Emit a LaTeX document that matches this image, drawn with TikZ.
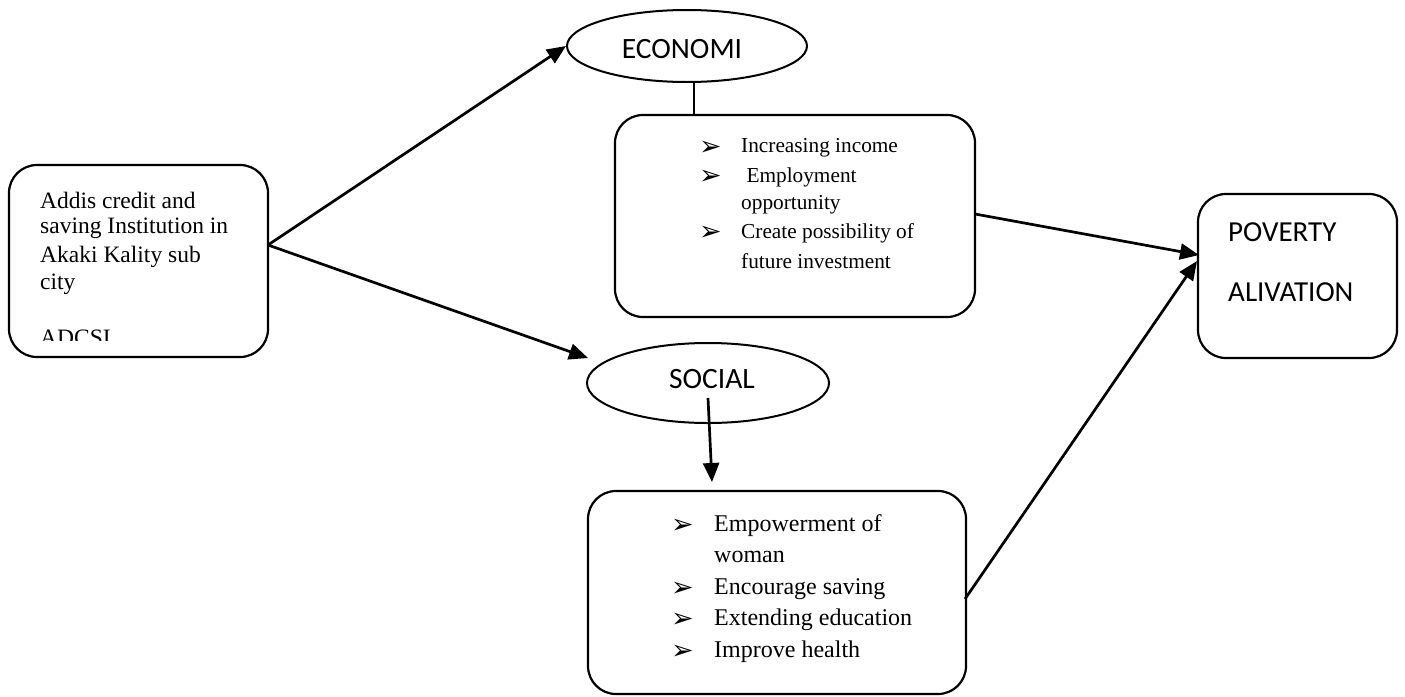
\documentclass[tikz,border=0pt]{standalone}
\usepackage{fontspec}
\setmainfont{Liberation Serif}
\newfontfamily\carl{Carlito}
\newfontfamily\dvs{DejaVu Sans}
\usetikzlibrary{arrows.meta,shapes.geometric}
\tikzset{
  rbox/.style={draw, line width=2.2pt, rounded corners=28pt, inner sep=0pt},
  oval/.style={draw, ellipse, line width=2pt, inner sep=0pt},
  conn/.style={line width=2.7pt},
  arr/.style={conn, -{Triangle[length=19pt,width=16pt]}},
  txt/.style={anchor=west, inner sep=0pt},
  ltxt/.style={txt, font=\fontsize{23.5}{28}\selectfont},
  etxt/.style={txt, font=\fontsize{21.3}{25}\selectfont},
  stxt/.style={txt, font=\fontsize{24}{28}\selectfont},
  bul/.style={txt, font=\dvs\fontsize{27}{30}\selectfont},
  sans/.style={inner sep=0pt, font=\carl\fontsize{29.5}{34}\selectfont},
}
\begin{document}
\begin{tikzpicture}[x=1pt,y=-1pt]
\useasboundingbox (0,0) rectangle (1405,696);
% boxes
\node[rbox, minimum width=259, minimum height=192] (src) at (138.5,261) {};
\node[rbox, minimum width=360, minimum height=202] (eb) at (795,216) {};
\node[rbox, minimum width=378, minimum height=203] (sb) at (777,592.5) {};
\node[rbox, minimum width=199, minimum height=164] (pov) at (1297.5,276) {};
% ellipses
\node[oval, minimum width=240, minimum height=72] (eco) at (687,46) {};
\node[oval, minimum width=242, minimum height=80] (soc) at (708,383) {};
\node[sans] (ecot) at (682,49) {ECONOMI};
\node[sans] (soct) at (712,379) {SOCIAL};
% source text
\node[ltxt] (l1) at (40,200) {Addis credit and};
\node[ltxt] (l2) at (40,228) {saving Institution in};
\node[ltxt] (l3) at (40,257) {Akaki Kality sub};
\node[ltxt] (l4) at (40,284) {city};
\begin{scope}
\clip (9,165) rectangle (268,340);
\node[ltxt] (l5) at (40,338) {ADCSI};
\end{scope}
% economy text
\node[bul] (eb1) at (699,148) {➢};
\node[etxt] (e1) at (741,148) {Increasing income};
\node[bul] (eb2) at (699,177) {➢};
\node[etxt] (e2) at (741,177) {\ Employment};
\node[etxt] (e3) at (741,205) {opportunity};
\node[bul] (eb3) at (699,233) {➢};
\node[etxt] (e4) at (741,233) {Create possibility of};
\node[etxt] (e5) at (741,261) {future investment};
% social text
\node[bul] (sb1) at (671,526) {➢};
\node[stxt] (s1) at (714,526) {Empowerment of};
\node[stxt] (s2) at (714,557) {woman};
\node[bul] (sb2) at (671,589) {➢};
\node[stxt] (s3) at (714,589) {Encourage saving};
\node[bul] (sb3) at (671,620) {➢};
\node[stxt] (s4) at (714,620) {Extending education};
\node[bul] (sb4) at (671,652) {➢};
\node[stxt] (s5) at (714,652) {Improve health};
% poverty text
\node[txt, font=\carl\fontsize{29}{34}\selectfont] (p1) at (1228,232) {POVERTY};
\node[txt, font=\carl\fontsize{29}{34}\selectfont] (p2) at (1228,292) {ALIVATION};
% connectors
\coordinate (srcout) at (268,245);
\coordinate (socin) at (588,358);
\draw[arr] (srcout) -- (eco.west);
\draw[arr] (srcout) -- (socin);
\draw[conn] (eco.south) ++(7,0) coordinate (ecob) -- (ecob |- eb.north);
\coordinate (sa) at (708,398);
\coordinate (sbt) at (712,482);
\draw[arr] (sa) -- (sbt);
\coordinate (ebout) at (975,214);
\coordinate (pin1) at (1199,255);
\draw[arr] (ebout) -- (pin1);
\coordinate (sbout) at (965,599);
\coordinate (pin2) at (1197,261);
\draw[arr] (sbout) -- (pin2);
\end{tikzpicture}
\end{document}
